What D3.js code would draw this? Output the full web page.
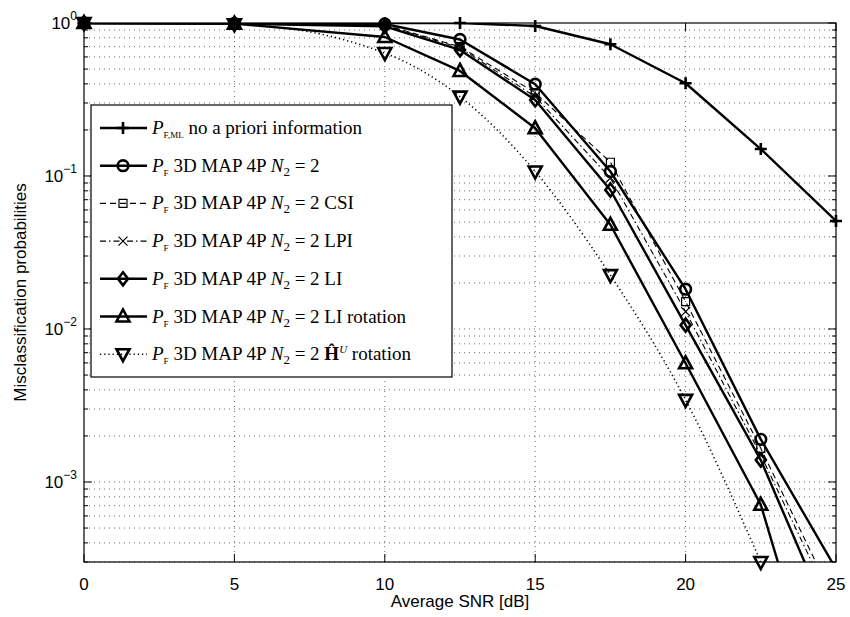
<!DOCTYPE html>
<html>
<head>
<meta charset="utf-8">
<script src="https://cdn.jsdelivr.net/npm/d3@7"></script>
<style>
  body { margin: 0; background: #fff; }
  svg { display: block; }
  .tick-label { font-family: "Liberation Sans", Arial, sans-serif; font-size: 17px; }
  .legend-text { font-family: "Liberation Serif", "DejaVu Serif", serif; font-size: 19px; }
</style>
</head>
<body>
<svg id="chart" width="850" height="617"></svg>
<script>
// SNR points (dB)
const snr = [0, 5, 10, 12.5, 15, 17.5, 20, 22.5, 25];

// misclassification probabilities
const pML    = [1, 1, 1, 1, 0.956, 0.726, 0.404, 0.150, 0.0508];
const pMap   = [1, 0.995, 0.985, 0.78, 0.398, 0.107, 0.0182, 0.0019, 0.00027];
const pCsi   = [1, 0.995, 0.97, 0.70, 0.35, 0.123, 0.0151, 0.00166, 0.00016];
const pLpi   = [1, 0.995, 0.965, 0.69, 0.33, 0.097, 0.013, 0.0015, 0.00014];
const pLi    = [1, 0.99, 0.95, 0.667, 0.314, 0.081, 0.0106, 0.00139, 0.0001];
const pLiRot = [1, 0.99, 0.81, 0.486, 0.205, 0.048, 0.00597, 0.00071, 0.000016];
const pHRot  = [1, 0.98, 0.636, 0.33, 0.107, 0.0225, 0.00344, 0.0003];

const xTicks = [0, 5, 10, 15, 20, 25];
const yMajor = [1e-3, 1e-2, 1e-1, 1];
const yLabels = ['−3', '−2', '−1', '0'];

const series = [
  { vals: pML,    marker: 'plus',   dash: null,         lw: 2.4 },
  { vals: pMap,   marker: 'circle', dash: null,         lw: 2.4 },
  { vals: pCsi,   marker: 'square', dash: '6,4',        lw: 1.1 },
  { vals: pLpi,   marker: 'x',      dash: '6,3,1.5,3',  lw: 1.1 },
  { vals: pLi,    marker: 'diamond', dash: null,        lw: 2.4 },
  { vals: pLiRot, marker: 'triUp',  dash: null,         lw: 2.4 },
  { vals: pHRot,  marker: 'triDown', dash: '1.2,3',     lw: 1.6, smooth: true }
];

const svg = d3.select('#chart');
const x = d3.scaleLinear().domain([0, 25]).range([84, 836]);
const y = d3.scaleLog().domain([3e-4, 1]).range([562, 23]);
const [x0, x1] = x.range();
const [y0, y1] = y.range();

svg.append('defs').append('clipPath').attr('id', 'plot-clip')
  .append('rect').attr('x', x0).attr('y', y1).attr('width', x1 - x0).attr('height', y0 - y1);

// all log ticks inside domain
const logTicks = [];
for (let e = -4; e <= 0; e++) {
  for (let k = 1; k <= 9; k++) {
    const v = k * Math.pow(10, e);
    if (v >= 3e-4 && v <= 1) logTicks.push({ v, major: k === 1 });
  }
}

// grid
const grid = svg.append('g').attr('stroke', '#444').attr('stroke-width', 0.8)
  .attr('stroke-dasharray', '1,4');
grid.selectAll('line.gx').data(xTicks.slice(1, -1)).join('line')
  .attr('x1', d => x(d)).attr('x2', d => x(d)).attr('y1', y0).attr('y2', y1);
grid.selectAll('line.gy').data(logTicks.filter(t => t.v > 3e-4 && t.v < 1)).join('line')
  .attr('x1', x0).attr('x2', x1).attr('y1', d => y(d.v)).attr('y2', d => y(d.v));

// ticks inside the box
const ticks = svg.append('g').attr('stroke', '#000').attr('stroke-width', 1);
xTicks.forEach(t => {
  ticks.append('line').attr('x1', x(t)).attr('x2', x(t)).attr('y1', y0).attr('y2', y0 - 8);
  ticks.append('line').attr('x1', x(t)).attr('x2', x(t)).attr('y1', y1).attr('y2', y1 + 8);
});
logTicks.forEach(t => {
  const len = t.major ? 8 : 4;
  ticks.append('line').attr('x1', x0).attr('x2', x0 + len).attr('y1', y(t.v)).attr('y2', y(t.v));
  ticks.append('line').attr('x1', x1).attr('x2', x1 - len).attr('y1', y(t.v)).attr('y2', y(t.v));
});

// tick labels
svg.selectAll('text.xl').data(xTicks).join('text')
  .attr('class', 'tick-label').attr('x', d => x(d)).attr('y', 590)
  .attr('text-anchor', 'middle').text(d => d);

yMajor.forEach((v, i) => {
  const t = svg.append('text').attr('class', 'tick-label')
    .attr('x', 77).attr('y', y(v) + 6).attr('text-anchor', 'end');
  t.append('tspan').text('10');
  t.append('tspan').attr('dy', -9).attr('font-size', 12).text(yLabels[i]);
});

svg.append('text').attr('class', 'tick-label')
  .attr('x', (x0 + x1) / 2).attr('y', 607).attr('text-anchor', 'middle')
  .text('Average SNR [dB]');
svg.append('text').attr('class', 'tick-label')
  .attr('transform', `translate(26,${(y0 + y1) / 2}) rotate(-90)`)
  .attr('text-anchor', 'middle').text('Misclassification probabilities');

// markers
function markerPath(type) {
  switch (type) {
    case 'plus': return 'M-6,0H6M0,-6V6';
    case 'x': return 'M-4.5,-4.5L4.5,4.5M-4.5,4.5L4.5,-4.5';
    case 'circle': return d3.symbol(d3.symbolCircle, 90)();
    case 'square': return 'M-4,-4H4V4H-4Z';
    case 'diamond': return 'M0,-6.5L5,0L0,6.5L-5,0Z';
    case 'triUp': return 'M0,-7L6.5,5L-6.5,5Z';
    case 'triDown': return 'M0,7L6.5,-5L-6.5,-5Z';
  }
}
function markerWidth(type) {
  return (type === 'square' || type === 'x') ? 1.2 : 2.6;
}

const plot = svg.append('g').attr('clip-path', 'url(#plot-clip)');
series.forEach(s => {
  const pts = s.vals.map((v, i) => [snr[i], v]);
  const line = d3.line().x(d => x(d[0])).y(d => y(d[1]));
  if (s.smooth) line.curve(d3.curveMonotoneX);
  plot.append('path').datum(pts)
    .attr('d', line).attr('fill', 'none').attr('stroke', '#000')
    .attr('stroke-width', s.lw).attr('stroke-dasharray', s.dash)
    .attr('stroke-linejoin', 'round');
});
series.forEach(s => {
  s.vals.forEach((v, i) => {
    if (v < 3e-4 * 0.999) return;
    svg.append('path').attr('d', markerPath(s.marker))
      .attr('transform', `translate(${x(snr[i])},${y(v)})`)
      .attr('fill', 'none').attr('stroke', '#000')
      .attr('stroke-width', markerWidth(s.marker));
  });
});

// axes box
svg.append('rect').attr('x', x0).attr('y', y1).attr('width', x1 - x0).attr('height', y0 - y1)
  .attr('fill', 'none').attr('stroke', '#000').attr('stroke-width', 1.2);

// legend
const legendLabels = [
  { sub: 'F,ML', rest: ' no a priori information' },
  { sub: 'F', rest: '', n2: true },
  { sub: 'F', rest: ' CSI', n2: true },
  { sub: 'F', rest: ' LPI', n2: true },
  { sub: 'F', rest: ' LI', n2: true },
  { sub: 'F', rest: ' LI rotation', n2: true },
  { sub: 'F', rest: ' rotation', n2: true, hat: true }
];
const lg = svg.append('g');
lg.append('rect').attr('x', 91).attr('y', 105).attr('width', 361).attr('height', 272)
  .attr('fill', '#fff').attr('stroke', '#000').attr('stroke-width', 1.2);
legendLabels.forEach((lab, i) => {
  const s = series[i];
  const ry = 128 + i * 37.7;
  lg.append('line').attr('x1', 100).attr('x2', 147).attr('y1', ry).attr('y2', ry)
    .attr('stroke', '#000').attr('stroke-width', s.lw).attr('stroke-dasharray', s.dash);
  lg.append('path').attr('d', markerPath(s.marker)).attr('transform', `translate(123,${ry})`)
    .attr('fill', 'none').attr('stroke', '#000').attr('stroke-width', markerWidth(s.marker));
  const t = lg.append('text').attr('class', 'legend-text').attr('x', 152).attr('y', ry + 6);
  t.append('tspan').attr('font-style', 'italic').text('P');
  t.append('tspan').attr('dy', 4).attr('font-size', 9).text(lab.sub);
  if (lab.n2) {
    t.append('tspan').attr('dy', -4).text(' 3D MAP 4P ');
    t.append('tspan').attr('font-style', 'italic').text('N');
    t.append('tspan').attr('dy', 4).attr('font-size', 13).text('2');
    t.append('tspan').attr('dy', -4).text(' = 2');
    if (lab.hat) {
      t.append('tspan').text(' ');
      t.append('tspan').attr('font-weight', 'bold').text('Ĥ');
      t.append('tspan').attr('dy', -7).attr('font-size', 11).attr('font-style', 'italic').text('U');
      t.append('tspan').attr('dy', 7).text(lab.rest);
    } else {
      t.append('tspan').text(lab.rest);
    }
  } else {
    t.append('tspan').attr('dy', -4).text(lab.rest);
  }
});
</script>
</body>
</html>
